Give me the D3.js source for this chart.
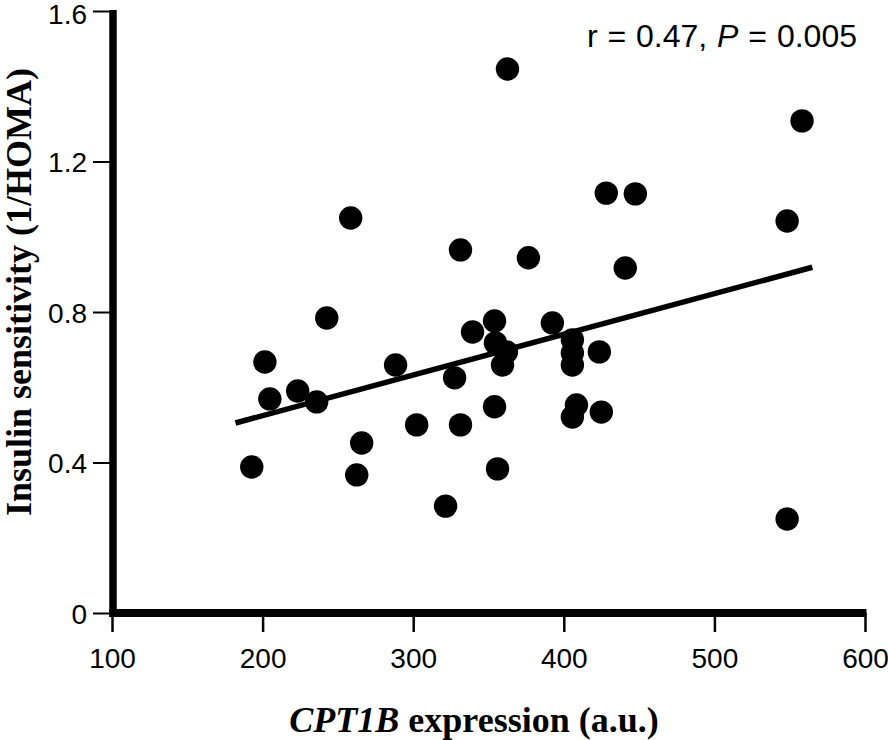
<!DOCTYPE html>
<html><head><meta charset="utf-8">
<script src="https://cdn.jsdelivr.net/npm/d3@7"></script>
<style>html,body{margin:0;padding:0;background:#fff;} svg{display:block;}</style>
</head><body>
<svg id="chart" width="888" height="740"></svg>
<script>
// CPT1B expression (a.u.)
const cpt1b = [192.8, 201.5, 204.8, 223.3, 235.9, 242.6, 258.5, 262.5, 265.8, 288.3,
               302.3, 321.5, 327.5, 331.4, 331.4, 339.4, 354.0, 354.6, 354.0, 356.0,
               359.3, 361.9, 362.6, 376.5, 392.4, 405.7, 405.7, 405.7, 405.7, 408.4,
               423.6, 424.9, 428.2, 440.8, 447.5, 548.3, 548.3, 558.2];
// Insulin sensitivity (1/HOMA)
const insulin = [0.388, 0.667, 0.569, 0.590, 0.561, 0.784, 1.050, 0.367, 0.452, 0.659,
                 0.500, 0.284, 0.625, 0.965, 0.500, 0.747, 0.776, 0.718, 0.548, 0.383,
                 0.659, 0.694, 1.446, 0.944, 0.771, 0.726, 0.691, 0.659, 0.521, 0.553,
                 0.694, 0.534, 1.116, 0.917, 1.114, 1.042, 0.250, 1.308];
// regression line end points
const fitX = [182, 565];
const fitY = [0.505, 0.919];
const xTicks = [100, 200, 300, 400, 500, 600];
const yTicks = [0, 0.4, 0.8, 1.2, 1.6];
const yTickLabels = ["0", "0.4", "0.8", "1.2", "1.6"];
const xTitleItalic = "CPT1B";
const xTitleRest = " expression (a.u.)";
const yTitle = "Insulin sensitivity (1/HOMA)";

const svg = d3.select("#chart");
const x = d3.scaleLinear().domain([100, 600]).range([112, 865]);
const y = d3.scaleLinear().domain([0, 1.6]).range([613, 11]);
const sans = "'Liberation Sans', Arial, Helvetica, sans-serif";
const serif = "'Liberation Serif', 'Times New Roman', serif";

// y axis ticks
const yAxis = svg.append("g").attr("transform", "translate(113,0)")
  .call(d3.axisLeft(y).tickValues(yTicks).tickSize(20).tickPadding(6)
    .tickFormat((d, i) => yTickLabels[i]));
yAxis.select(".domain").remove();
yAxis.selectAll(".tick line").attr("stroke", "#000").attr("stroke-width", 2);
yAxis.selectAll(".tick text").attr("font-family", sans).attr("font-size", 28)
  .attr("fill", "#000").attr("dy", "0.36em");
// the top label sits fully inside the picture
yAxis.selectAll(".tick text").filter(d => d === 1.6).attr("dy", "0.46em");

// x axis ticks
const xAxis = svg.append("g").attr("transform", "translate(0,613)")
  .call(d3.axisBottom(x).tickValues(xTicks).tickSize(19).tickPadding(16)
    .tickFormat(d3.format("d")));
xAxis.select(".domain").remove();
xAxis.selectAll(".tick line").attr("stroke", "#000").attr("stroke-width", 2.5);
xAxis.selectAll(".tick text").attr("font-family", sans).attr("font-size", 28)
  .attr("fill", "#000");

// thick axis lines
svg.append("line").attr("x1", 113).attr("x2", 113)
  .attr("y1", y(1.6) - 1).attr("y2", y(0) + 4)
  .attr("stroke", "#000").attr("stroke-width", 7.5);
svg.append("line").attr("x1", 109.5).attr("x2", x(600) + 1.5)
  .attr("y1", y(0)).attr("y2", y(0))
  .attr("stroke", "#000").attr("stroke-width", 8);

// regression line
svg.append("line")
  .attr("x1", x(fitX[0])).attr("y1", y(fitY[0]))
  .attr("x2", x(fitX[1])).attr("y2", y(fitY[1]))
  .attr("stroke", "#000").attr("stroke-width", 5.5);

// points
svg.append("g").selectAll("circle").data(cpt1b).join("circle")
  .attr("cx", d => x(d)).attr("cy", (d, i) => y(insulin[i]))
  .attr("r", 11.7).attr("fill", "#000");

// statistic label
const stat = svg.append("text").attr("x", 857).attr("y", 47)
  .attr("text-anchor", "end").attr("font-family", sans).attr("font-size", 32)
  .attr("word-spacing", 1).attr("fill", "#000");
stat.append("tspan").text("r = 0.47, ");
stat.append("tspan").attr("font-style", "italic").text("P");
stat.append("tspan").text(" = 0.005");

// x title
const xt = svg.append("text").attr("x", 474).attr("y", 732)
  .attr("text-anchor", "middle").attr("font-family", serif)
  .attr("font-weight", "bold").attr("font-size", 36).attr("fill", "#000");
xt.append("tspan").attr("font-style", "italic").text(xTitleItalic);
xt.append("tspan").text(xTitleRest);

// y title
svg.append("text").attr("transform", "translate(31,292) rotate(-90)")
  .attr("text-anchor", "middle").attr("font-family", serif)
  .attr("font-weight", "bold").attr("font-size", 36).attr("fill", "#000")
  .text(yTitle);
</script>
</body></html>
